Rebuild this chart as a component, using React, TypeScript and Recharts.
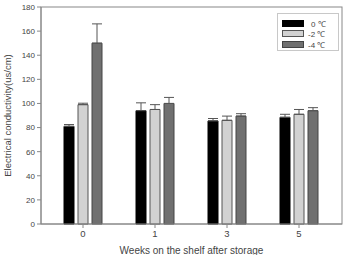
import React from "react";
import {
  BarChart,
  Bar,
  XAxis,
  YAxis,
  ErrorBar,
  Legend,
  usePlotArea,
} from "recharts";

// Weeks on shelf after storage
const weeks = ["0", "1", "3", "5"];

// Mean electrical conductivity (us/cm) per storage temperature
const temp0 = [81, 94, 85.5, 88.5];
const tempMinus2 = [99, 95, 86, 91];
const tempMinus4 = [150, 100, 89.5, 94];

// Upper error (only the upper whisker is shown in the figure)
const err0 = [1.5, 6.5, 2, 2.5];
const errMinus2 = [1.2, 4, 3.5, 4];
const errMinus4 = [16, 5, 2, 2.5];

const yTicks = [0, 20, 40, 60, 80, 100, 120, 140, 160, 180];

const seriesInfo = [
  { key: "t0", name: "0 \u2103", fill: "#000000", stroke: "#000000" },
  { key: "t2", name: "-2 \u2103", fill: "#d2d2d2", stroke: "#555555" },
  { key: "t4", name: "-4 \u2103", fill: "#707070", stroke: "#444444" },
];

const chartData = weeks.map((w, i) => ({
  week: w,
  t0: temp0[i],
  t2: tempMinus2[i],
  t4: tempMinus4[i],
  e0: [0, err0[i]],
  e2: [0, errMinus2[i]],
  e4: [0, errMinus4[i]],
}));

const FONT = "Arial, 'Liberation Sans', sans-serif";

// top + right border of the plot frame
function Frame() {
  const area = usePlotArea();
  if (!area) return null;
  return (
    <rect
      x={area.x}
      y={area.y}
      width={area.width}
      height={area.height}
      fill="none"
      stroke="#888"
      strokeWidth={1}
    />
  );
}

function LegendBox() {
  return (
    <div
      style={{
        border: "1px solid #c8c8c8",
        width: 62,
        height: 38,
        boxSizing: "border-box",
        padding: "4px 0 0 4px",
        fontFamily: FONT,
        fontSize: 8,
        color: "#444",
        background: "#fff",
      }}
    >
      {seriesInfo.map((s) => (
        <div
          key={s.key}
          style={{ display: "flex", alignItems: "center", height: 10.5 }}
        >
          <span
            style={{
              display: "inline-block",
              width: 20,
              height: 5,
              background: s.fill,
              border: `1px solid ${s.stroke}`,
              marginRight: s.key === "t0" ? 7 : 4,
            }}
          />
          <span>{s.name}</span>
        </div>
      ))}
    </div>
  );
}

export default function App() {
  return (
    <div style={{ position: "fixed", left: 0, top: 0, background: "#fff" }}>
      <BarChart
        width={343}
        height={255}
        data={chartData}
        margin={{ top: 7, right: 1, left: 0, bottom: 0 }}
        barSize={10}
        barGap={4}
        barCategoryGap={17}
      >
        <XAxis
          dataKey="week"
          height={31}
          padding={{ left: 6, right: 7 }}
          tick={{ fill: "#444", fontSize: 9.5, fontFamily: FONT }}
          tickLine={{ stroke: "#888" }}
          tickSize={4}
          axisLine={{ stroke: "#888" }}
          label={(props: any) => {
            const vb = props.viewBox;
            return (
              <text
                x={vb.x + vb.width / 2}
                y={254}
                textAnchor="middle"
                fontSize={10}
                fontFamily={FONT}
                fill="#444"
              >
                Weeks on the shelf after storage
              </text>
            );
          }}
        />
        <YAxis
          width={41}
          domain={[0, 180]}
          ticks={yTicks}
          interval={0}
          tick={{ fill: "#444", fontSize: 8, fontFamily: FONT }}
          tickLine={{ stroke: "#888" }}
          tickSize={4}
          tickMargin={2}
          axisLine={{ stroke: "#888" }}
          label={(props: any) => {
            const vb = props.viewBox;
            const cx = 7;
            const cy = vb.y + vb.height / 2;
            return (
              <text
                x={cx}
                y={cy}
                textAnchor="middle"
                dominantBaseline="central"
                transform={`rotate(-90 ${cx} ${cy})`}
                fontSize={9.5}
                fontFamily={FONT}
                fill="#444"
              >
                Electrical conductivity(us/cm)
              </text>
            );
          }}
        />
        <Frame />
        <Legend
          verticalAlign="middle"
          align="center"
          layout="horizontal"
          wrapperStyle={{ top: 13, left: 277, width: 62 }}
          content={() => <LegendBox />}
        />
        {seriesInfo.map((s, i) => (
          <Bar
            key={s.key}
            dataKey={s.key}
            name={s.name}
            fill={s.fill}
            stroke={s.stroke}
            strokeWidth={1}
            isAnimationActive={false}
          >
            <ErrorBar
              dataKey={["e0", "e2", "e4"][i]}
              width={5}
              stroke="#555"
              strokeWidth={1}
              direction="y"
            />
          </Bar>
        ))}
      </BarChart>
    </div>
  );
}
